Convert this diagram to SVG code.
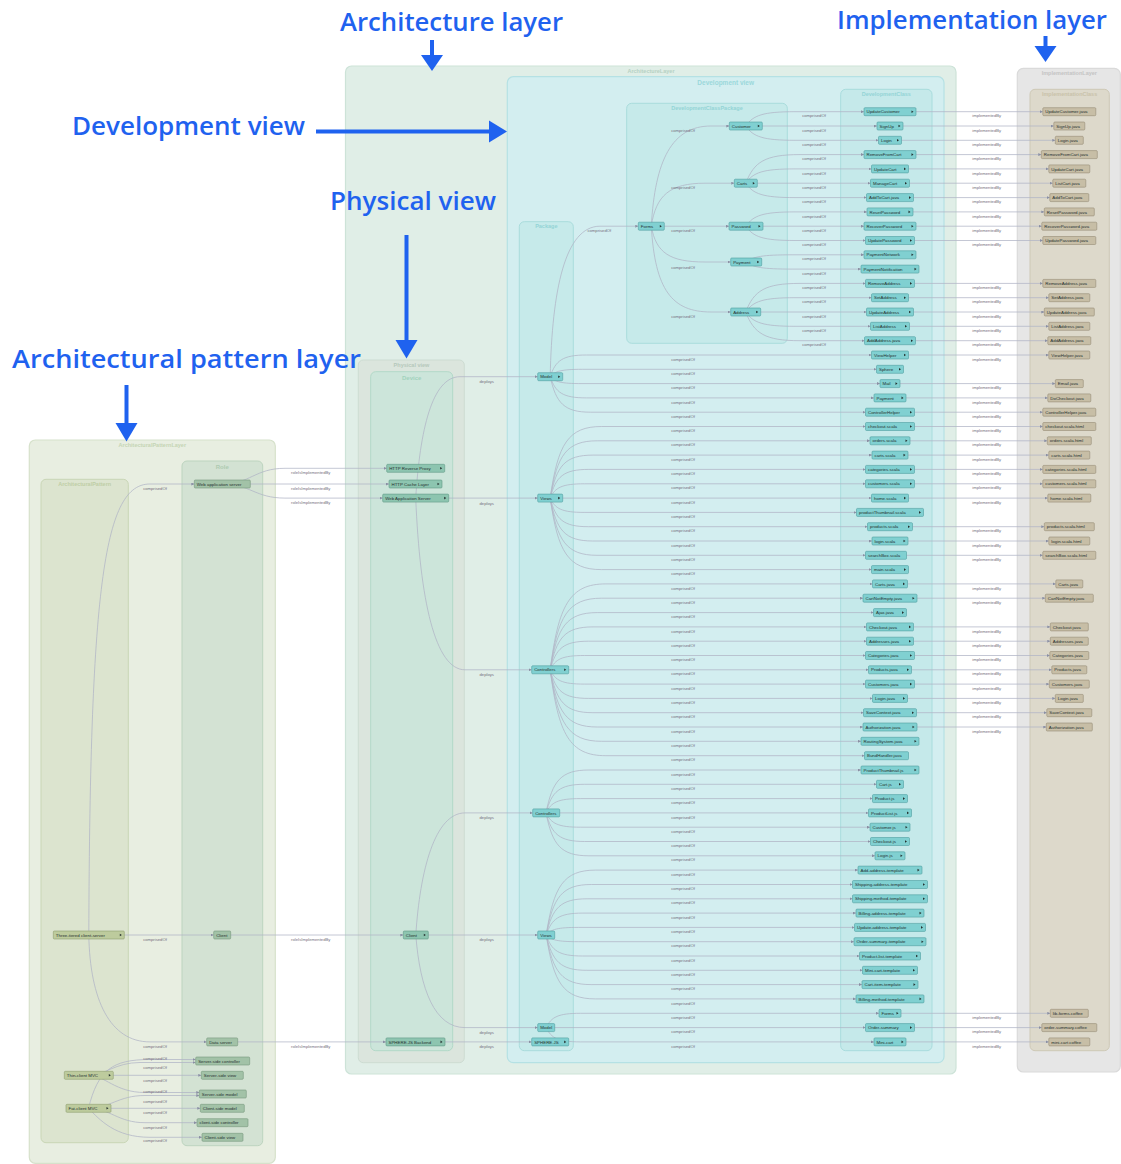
<svg xmlns="http://www.w3.org/2000/svg" width="1121" height="1164" viewBox="0 0 1121 1164">
<defs>
<marker id="ah" viewBox="0 0 4 4" refX="4" refY="2" markerWidth="3" markerHeight="3" markerUnits="userSpaceOnUse" orient="auto"><path d="M0,0L4,2L0,4z" fill="#8a8fa3"/></marker>
</defs>
<style>
.n rect{stroke-width:.6}
.dv rect{fill:#80d0d1;stroke:#4f9ea0}
.im rect{fill:#c7bea6;stroke:#958c75}
.ph rect{fill:#8dc5b0;stroke:#5f9985}
.ro rect{fill:#a2c2a7;stroke:#77977c}
.ap rect{fill:#bdcb9d;stroke:#8f9e70}
.n text{font-family:"Liberation Sans",Arial,sans-serif;font-size:4.4px;fill:#25302f}
.n path{fill:#25302f}
.e{fill:none;stroke:#b0b4c6;stroke-width:.75;marker-end:url(#ah)}
.lb{font-family:"Liberation Sans",Arial,sans-serif;font-size:4.2px;fill:#766f7e;text-anchor:middle}
.ct{font-family:"Liberation Sans",Arial,sans-serif;font-weight:bold;text-anchor:middle;font-size:5.5px}
.ann{font-family:"Open Sans",sans-serif;font-weight:600;font-size:25px;fill:#1f62ef}
.arr{stroke:#1f62ef;stroke-width:4;fill:none}
.arh{fill:#1f62ef}
</style>

<!-- containers -->
<g id="containers">
<rect id="ArchitectureLayer" x="345.5" y="66" width="610.5" height="1008" rx="6" fill="#e0eee7" stroke="#cde3d8" stroke-width="1.2"/>
<text class="ct" x="651" y="72.5" fill="#b6d1c3" font-weight="normal">ArchitectureLayer</text>
<rect id="DevelopmentView" x="507.3" y="76.7" width="436.7" height="986" rx="6" fill="#d3eef0" stroke="#b5e1e4" stroke-width="1.2"/>
<text class="ct" x="725.7" y="84.8" fill="#9bd8db" style="font-size:6.5px">Development view</text>
<rect id="DevelopmentClassPackage" x="626.7" y="103.3" width="160.6" height="240" rx="5" fill="#c6eaea" stroke="#a9dcdc" stroke-width="1"/>
<text class="ct" x="707" y="110.3" fill="#94d4d6">DevelopmentClassPackage</text>
<rect id="DevelopmentClass" x="840.7" y="89.3" width="91.3" height="961.4" rx="5" fill="#c5e9ea" stroke="#a8dcdd" stroke-width="1"/>
<text class="ct" x="886.3" y="96.3" fill="#94d4d6">DevelopmentClass</text>
<rect id="Package" x="519.3" y="221.7" width="54" height="829" rx="5" fill="#c6eaea" stroke="#a9dcdc" stroke-width="1"/>
<text class="ct" x="546.3" y="228.2" fill="#94d4d6">Package</text>
<rect id="PhysicalView" x="358.3" y="360" width="106" height="702.7" rx="5" fill="#dbe5dd" stroke="#cddcd2" stroke-width="1"/>
<text class="ct" x="411.5" y="367" fill="#b5c8bb">Physical view</text>
<rect id="Device" x="370.7" y="371.7" width="82" height="679" rx="5" fill="#cce5da" stroke="#b2d9c8" stroke-width="1"/>
<text class="ct" x="411.7" y="379.5" fill="#a2d2bd" style="font-size:6px">Device</text>
<rect id="ImplementationLayer" x="1017.3" y="68.3" width="103" height="1003.7" rx="6" fill="#e6e6e6" stroke="#dadada" stroke-width="1.2"/>
<text class="ct" x="1069.3" y="74.7" fill="#c4c4c4" font-weight="normal">ImplementationLayer</text>
<rect id="ImplementationClass" x="1030" y="89.3" width="79.3" height="961.4" rx="5" fill="#ddd9cb" stroke="#cec9b6" stroke-width="1"/>
<text class="ct" x="1069.6" y="96.3" fill="#c9c2aa">ImplementationClass</text>
<rect id="ArchitecturalPatternLayer" x="29.3" y="440" width="246" height="723.3" rx="6" fill="#e8eee1" stroke="#d6e1cb" stroke-width="1.2"/>
<text class="ct" x="152.3" y="447" fill="#c5d5b4" font-weight="normal">ArchitecturalPatternLayer</text>
<rect id="ArchitecturalPattern" x="41" y="479.3" width="87.3" height="663.4" rx="5" fill="#dce4cf" stroke="#c9d6b6" stroke-width="1"/>
<text class="ct" x="84.7" y="485.5" fill="#bfcea6">ArchitecturalPattern</text>
<rect id="Role" x="182" y="461" width="80.7" height="684.7" rx="5" fill="#d3e2d3" stroke="#bdd4bf" stroke-width="1"/>
<text class="ct" x="222.3" y="468.8" fill="#aecbb1" style="font-size:6px">Role</text>
</g>

<!-- connectors -->
<g id="connectors">
<!-- architectural pattern to role -->
<path class="e" d="M88.8,935C90,580 105,484 150,484L194.3,484"/>
<path class="e" d="M88.8,935L213.7,935"/>
<path class="e" d="M88.8,935C90,1000 110,1041.9 150,1041.9L206.7,1041.9"/>
<path class="e" d="M88.8,1075.3C105,1075.3 115,1062.5 140,1062.5L195.7,1062.5"/>
<path class="e" d="M88.8,1075.3L201.3,1075.3"/>
<path class="e" d="M88.8,1075.3C105,1075.3 115,1092.5 145,1092.5L199.3,1092.5"/>
<path class="e" d="M88.5,1108.3C98,1070 112,1059.5 150,1059.5L195.7,1059.5"/>
<path class="e" d="M88.5,1108.3C110,1108.3 118,1095.5 145,1095.5L199.3,1095.5"/>
<path class="e" d="M88.5,1108.3L200.3,1108.3"/>
<path class="e" d="M88.5,1108.3C110,1108.3 118,1122.7 145,1122.7L197,1122.7"/>
<path class="e" d="M88.5,1108.3C100,1120 115,1137.3 150,1137.3L202,1137.3"/>
<!-- role to device -->
<path class="e" d="M222.5,484C250,484 255,468.3 285,468.3L386.7,468.3"/>
<path class="e" d="M222.5,484L389,484"/>
<path class="e" d="M222.5,484C250,484 255,498.1 285,498.1L382.7,498.1"/>
<path class="e" d="M222.2,935L403.3,935"/>
<path class="e" d="M222.2,1041.9L386,1041.9"/>
<!-- device to package -->
<path class="e" d="M415.7,498.1C420,430 432,376.7 460,376.7L537.7,376.7"/>
<path class="e" d="M415.7,498.1L537.7,498.1"/>
<path class="e" d="M415.7,498.1C420,600 435,669.8 465,669.8L531.7,669.8"/>
<path class="e" d="M415.8,935C420,870 435,812.9 465,812.9L532.7,812.9"/>
<path class="e" d="M415.8,935L537.7,935"/>
<path class="e" d="M415.8,935C420,990 435,1027.6 465,1027.6L537.7,1027.6"/>
<path class="e" d="M415.5,1041.9L531.7,1041.9"/>
<!-- package to class package -->
<path class="e" d="M550.2,376.7C552,290 565,226.2 600,226.2L638.3,226.2"/>
<path class="e" d="M651.3,226.2C655,160 672,126 711,126L729.3,126"/>
<path class="e" d="M651.3,226.2C656,195 670,183.2 705,183.2L734.3,183.2"/>
<path class="e" d="M651.3,226.2L729,226.2"/>
<path class="e" d="M651.3,226.2C656,253 670,262 705,262L730.7,262"/>
<path class="e" d="M651.3,226.2C655,290 672,312 711,312L730.7,312"/>
<!-- class package to class -->
<path class="e" d="M745.8,126C753,115.3 763,111.7 795,111.7L864,111.7"/>
<path class="e" d="M745.8,126L877,126"/>
<path class="e" d="M745.8,126C753,136.7 763,140.3 795,140.3L878.5,140.3"/>
<path class="e" d="M745.8,183.2C754,161.8 765,154.6 800,154.6L864,154.6"/>
<path class="e" d="M745.8,183.2C753,172.4 763,168.9 795,168.9L871.5,168.9"/>
<path class="e" d="M745.8,183.2L870.5,183.2"/>
<path class="e" d="M745.8,183.2C753,194 763,197.6 795,197.6L866.5,197.6"/>
<path class="e" d="M746,226.2C753,215.5 763,211.9 795,211.9L867,211.9"/>
<path class="e" d="M746,226.2L864,226.2"/>
<path class="e" d="M746,226.2C753,236.9 763,240.5 795,240.5L865.5,240.5"/>
<path class="e" d="M746.2,262C753,256.6 762,254.8 793,254.8L864,254.8"/>
<path class="e" d="M746.2,262C753,267.3 762,269.1 793,269.1L861,269.1"/>
<path class="e" d="M745.7,312C754,290.5 765,283.4 800,283.4L865.5,283.4"/>
<path class="e" d="M745.7,312C753,301.3 763,297.7 795,297.7L871.5,297.7"/>
<path class="e" d="M745.7,312L866.5,312"/>
<path class="e" d="M745.7,312C753,322.7 763,326.3 795,326.3L870.5,326.3"/>
<path class="e" d="M745.7,312C754,333.5 765,340.7 800,340.7L864.5,340.7"/>
<!-- package to class -->
<path class="e" d="M550.2,376.7C555.5,360.4 562.8,355 586.5,355L871.5,355"/>
<path class="e" d="M550.2,376.7C554.8,371.2 561.3,369.3 582.2,369.3L876.5,369.3"/>
<path class="e" d="M550.2,376.7C554.8,381.9 561.2,383.6 582,383.6L880,383.6"/>
<path class="e" d="M550.2,376.7C555.5,392.6 562.7,397.9 586.4,397.9L874,397.9"/>
<path class="e" d="M550.2,376.7C556.1,403.3 564.2,412.2 590.7,412.2L865.5,412.2"/>
<path class="e" d="M550.2,498.1C557.8,443.9 568.1,426.5 601.7,426.5L865.5,426.5"/>
<path class="e" d="M550.2,498.1C557.1,454.7 566.6,440.8 597.4,440.8L870,440.8"/>
<path class="e" d="M550.2,498.1C556.5,465.4 565.1,455.1 593.1,455.1L872,455.1"/>
<path class="e" d="M550.2,498.1C555.8,476.4 563.6,469.4 588.8,469.4L865.5,469.4"/>
<path class="e" d="M550.2,498.1C555.2,487.3 562.1,483.8 584.5,483.8L865.5,483.8"/>
<path class="e" d="M550.2,498.1L871.5,498.1"/>
<path class="e" d="M550.2,498.1C555.1,508.8 561.9,512.4 584.1,512.4L856.5,512.4"/>
<path class="e" d="M550.2,498.1C555.8,519.6 563.4,526.7 588.4,526.7L867.5,526.7"/>
<path class="e" d="M550.2,498.1C556.4,530.3 564.9,541 592.7,541L872,541"/>
<path class="e" d="M550.2,498.1C557,541 566.5,555.3 597,555.3L865.5,555.3"/>
<path class="e" d="M550.2,498.1C557.7,551.7 568,569.6 601.3,569.6L871.5,569.6"/>
<path class="e" d="M550.2,669.8C558.4,605.4 569.5,583.9 605.8,583.9L872.5,583.9"/>
<path class="e" d="M550.2,669.8C557.7,616.1 568,598.2 601.5,598.2L863,598.2"/>
<path class="e" d="M550.2,669.8C557.1,626.9 566.5,612.6 597.2,612.6L873.5,612.6"/>
<path class="e" d="M550.2,669.8C556.4,637.6 565,626.9 592.9,626.9L866.5,626.9"/>
<path class="e" d="M550.2,669.8C555.8,648.4 563.5,641.2 588.6,641.2L866.5,641.2"/>
<path class="e" d="M550.2,669.8C555.2,659.1 562,655.5 584.4,655.5L865.5,655.5"/>
<path class="e" d="M550.2,669.8L868.5,669.8"/>
<path class="e" d="M550.2,669.8C555.2,680.5 562,684.1 584.4,684.1L865.5,684.1"/>
<path class="e" d="M550.2,669.8C555.8,691.3 563.5,698.4 588.6,698.4L872.5,698.4"/>
<path class="e" d="M550.2,669.8C556.4,702 565,712.7 592.9,712.7L863.5,712.7"/>
<path class="e" d="M550.2,669.8C557.1,712.7 566.5,727 597.2,727L863,727"/>
<path class="e" d="M550.2,669.8C557.7,723.4 568,741.3 601.5,741.3L861,741.3"/>
<path class="e" d="M550.2,669.8C558.4,734.2 569.5,755.7 605.8,755.7L864.5,755.7"/>
<path class="e" d="M546,812.9C552.4,780.7 561,770 588.9,770L861,770"/>
<path class="e" d="M546,812.9C551.8,791.4 559.5,784.3 584.6,784.3L876.5,784.3"/>
<path class="e" d="M546,812.9C551.2,802.2 558,798.6 580.4,798.6L872.5,798.6"/>
<path class="e" d="M546,812.9L868.5,812.9"/>
<path class="e" d="M546,812.9C551.2,823.6 558,827.2 580.4,827.2L870,827.2"/>
<path class="e" d="M546,812.9C551.8,834.4 559.5,841.5 584.6,841.5L870.5,841.5"/>
<path class="e" d="M546,812.9C552.4,845.1 561,855.8 588.9,855.8L875,855.8"/>
<path class="e" d="M546.2,935C553.6,886.3 563.5,870.1 595.7,870.1L858,870.1"/>
<path class="e" d="M546.2,935C553,897.1 562,884.5 591.4,884.5L852.5,884.5"/>
<path class="e" d="M546.2,935C552.3,907.9 560.5,898.8 587.1,898.8L852.5,898.8"/>
<path class="e" d="M546.2,935C551.7,918.6 559,913.1 582.8,913.1L856,913.1"/>
<path class="e" d="M546.2,935C551,929.3 557.5,927.4 578.5,927.4L854.5,927.4"/>
<path class="e" d="M546.2,935C551,940 557.4,941.7 578.2,941.7L854,941.7"/>
<path class="e" d="M546.2,935C551.6,950.8 558.9,956 582.5,956L859.5,956"/>
<path class="e" d="M546.2,935C552.3,961.5 560.4,970.3 586.8,970.3L862.5,970.3"/>
<path class="e" d="M546.2,935C552.9,972.2 561.9,984.6 591.1,984.6L862,984.6"/>
<path class="e" d="M546.2,935C553.6,982.9 563.4,998.9 595.4,998.9L856,998.9"/>
<path class="e" d="M546.2,1027.6C551.3,1016.9 558.2,1013.3 580.5,1013.3L879,1013.3"/>
<path class="e" d="M546.2,1027.6L865.5,1027.6"/>
<path class="e" d="M546.2,1027.6C551.3,1038.3 558.2,1041.9 580.5,1041.9L874,1041.9"/>
<!-- class to implementation -->
<path class="e" d="M916,111.7H1042.8"/>
<path class="e" d="M903,126H1053.8"/>
<path class="e" d="M901.5,140.3H1055.3"/>
<path class="e" d="M916,154.6H1041.3"/>
<path class="e" d="M908.5,168.9H1048.8"/>
<path class="e" d="M909.5,183.2H1052.8"/>
<path class="e" d="M913.5,197.6H1049.8"/>
<path class="e" d="M913,211.9H1044.3"/>
<path class="e" d="M916,226.2H1041.8"/>
<path class="e" d="M914.5,240.5H1042.8"/>
<path class="e" d="M914.5,283.4H1042.8"/>
<path class="e" d="M908.5,297.7H1048.8"/>
<path class="e" d="M913.5,312H1044.3"/>
<path class="e" d="M909.5,326.3H1048.8"/>
<path class="e" d="M915.5,340.7H1047.8"/>
<path class="e" d="M908.5,355H1048.8"/>
<path class="e" d="M900,383.6H1055.3"/>
<path class="e" d="M906,397.9H1047.8"/>
<path class="e" d="M914.5,412.2H1042.8"/>
<path class="e" d="M914.5,426.5H1042.8"/>
<path class="e" d="M910,440.8H1047.3"/>
<path class="e" d="M908,455.1H1048.8"/>
<path class="e" d="M914.5,469.4H1042.8"/>
<path class="e" d="M914.5,483.8H1042.8"/>
<path class="e" d="M908.5,498.1H1047.8"/>
<path class="e" d="M912.5,526.7H1044.3"/>
<path class="e" d="M908,541H1048.8"/>
<path class="e" d="M906.5,555.3H1042.8"/>
<path class="e" d="M907.5,583.9H1055.8"/>
<path class="e" d="M917,598.2H1045.3"/>
<path class="e" d="M913.5,626.9H1050.3"/>
<path class="e" d="M913.5,641.2H1050.3"/>
<path class="e" d="M914.5,655.5H1049.8"/>
<path class="e" d="M911.5,669.8H1051.8"/>
<path class="e" d="M914.5,684.1H1049.3"/>
<path class="e" d="M907.5,698.4H1055.3"/>
<path class="e" d="M916.5,712.7H1046.8"/>
<path class="e" d="M917,727H1046.3"/>
<path class="e" d="M901,1013.3H1050.3"/>
<path class="e" d="M914.5,1027.6H1041.8"/>
<path class="e" d="M906,1041.9H1048.8"/>
</g>

<!-- connector labels -->
<g id="connector-labels">
<g class="lb">
<text x="155" y="489.6">comprisedOf</text><text x="155" y="940.6">comprisedOf</text><text x="155" y="1047.6">comprisedOf</text>
<text x="155" y="1059.9">comprisedOf</text><text x="155" y="1069.3">comprisedOf</text><text x="155" y="1081.6">comprisedOf</text>
<text x="155" y="1092.6">comprisedOf</text><text x="155" y="1102.6">comprisedOf</text><text x="155" y="1114.3">comprisedOf</text>
<text x="155" y="1129.3">comprisedOf</text><text x="155" y="1142.3">comprisedOf</text>
<text x="310.7" y="473.9">roleIsImplementedBy</text><text x="310.7" y="489.6">roleIsImplementedBy</text><text x="310.7" y="503.9">roleIsImplementedBy</text>
<text x="310.7" y="940.6">roleIsImplementedBy</text><text x="310.7" y="1047.6">roleIsImplementedBy</text>
<text x="486.7" y="383.3">deploys</text><text x="486.7" y="504.6">deploys</text><text x="486.7" y="675.6">deploys</text>
<text x="486.7" y="819.3">deploys</text><text x="486.7" y="940.6">deploys</text><text x="486.7" y="1034.3">deploys</text><text x="486.7" y="1047.6">deploys</text>
<text x="599.3" y="231.9">comprisedOf</text>
<text x="683" y="132.3">comprisedOf</text><text x="683" y="189.3">comprisedOf</text><text x="683" y="231.9">comprisedOf</text>
<text x="683" y="268.6">comprisedOf</text><text x="683" y="318.3">comprisedOf</text>
<text x="814" y="117.3">comprisedOf</text><text x="814" y="131.6">comprisedOf</text><text x="814" y="145.9">comprisedOf</text>
<text x="814" y="160.2">comprisedOf</text><text x="814" y="174.5">comprisedOf</text><text x="814" y="188.8">comprisedOf</text>
<text x="814" y="203.2">comprisedOf</text><text x="814" y="217.5">comprisedOf</text><text x="814" y="231.8">comprisedOf</text>
<text x="814" y="246.1">comprisedOf</text><text x="814" y="260.4">comprisedOf</text><text x="814" y="274.7">comprisedOf</text>
<text x="814" y="289">comprisedOf</text><text x="814" y="303.3">comprisedOf</text><text x="814" y="317.6">comprisedOf</text>
<text x="814" y="331.9">comprisedOf</text><text x="814" y="346.3">comprisedOf</text>
<text x="683" y="360.6">comprisedOf</text><text x="683" y="374.9">comprisedOf</text><text x="683" y="389.2">comprisedOf</text>
<text x="683" y="403.5">comprisedOf</text><text x="683" y="417.8">comprisedOf</text><text x="683" y="432.1">comprisedOf</text>
<text x="683" y="446.4">comprisedOf</text><text x="683" y="460.7">comprisedOf</text><text x="683" y="475">comprisedOf</text>
<text x="683" y="489.4">comprisedOf</text><text x="683" y="503.7">comprisedOf</text><text x="683" y="518">comprisedOf</text>
<text x="683" y="532.3">comprisedOf</text><text x="683" y="546.6">comprisedOf</text><text x="683" y="560.9">comprisedOf</text>
<text x="683" y="575.2">comprisedOf</text><text x="683" y="589.5">comprisedOf</text><text x="683" y="603.8">comprisedOf</text>
<text x="683" y="618.2">comprisedOf</text><text x="683" y="632.5">comprisedOf</text><text x="683" y="646.8">comprisedOf</text>
<text x="683" y="661.1">comprisedOf</text><text x="683" y="675.4">comprisedOf</text><text x="683" y="689.7">comprisedOf</text>
<text x="683" y="704">comprisedOf</text><text x="683" y="718.3">comprisedOf</text><text x="683" y="732.6">comprisedOf</text>
<text x="683" y="746.9">comprisedOf</text><text x="683" y="761.3">comprisedOf</text><text x="683" y="775.6">comprisedOf</text>
<text x="683" y="789.9">comprisedOf</text><text x="683" y="804.2">comprisedOf</text><text x="683" y="818.5">comprisedOf</text>
<text x="683" y="832.8">comprisedOf</text><text x="683" y="847.1">comprisedOf</text><text x="683" y="861.4">comprisedOf</text>
<text x="683" y="875.7">comprisedOf</text><text x="683" y="890.1">comprisedOf</text><text x="683" y="904.4">comprisedOf</text>
<text x="683" y="918.7">comprisedOf</text><text x="683" y="933">comprisedOf</text><text x="683" y="947.3">comprisedOf</text>
<text x="683" y="961.6">comprisedOf</text><text x="683" y="975.9">comprisedOf</text><text x="683" y="990.2">comprisedOf</text>
<text x="683" y="1004.5">comprisedOf</text><text x="683" y="1018.9">comprisedOf</text><text x="683" y="1033.2">comprisedOf</text>
<text x="683" y="1047.5">comprisedOf</text>
<text x="986.7" y="117.3">implementedBy</text><text x="986.7" y="131.6">implementedBy</text><text x="986.7" y="145.9">implementedBy</text>
<text x="986.7" y="160.2">implementedBy</text><text x="986.7" y="174.5">implementedBy</text><text x="986.7" y="188.8">implementedBy</text>
<text x="986.7" y="203.2">implementedBy</text><text x="986.7" y="217.5">implementedBy</text><text x="986.7" y="231.8">implementedBy</text>
<text x="986.7" y="246.1">implementedBy</text><text x="986.7" y="289">implementedBy</text><text x="986.7" y="303.3">implementedBy</text>
<text x="986.7" y="317.6">implementedBy</text><text x="986.7" y="331.9">implementedBy</text><text x="986.7" y="346.3">implementedBy</text>
<text x="986.7" y="360.6">implementedBy</text><text x="986.7" y="389.2">implementedBy</text><text x="986.7" y="403.5">implementedBy</text>
<text x="986.7" y="417.8">implementedBy</text><text x="986.7" y="432.1">implementedBy</text><text x="986.7" y="446.4">implementedBy</text>
<text x="986.7" y="460.7">implementedBy</text><text x="986.7" y="475">implementedBy</text><text x="986.7" y="489.4">implementedBy</text>
<text x="986.7" y="503.7">implementedBy</text><text x="986.7" y="532.3">implementedBy</text><text x="986.7" y="546.6">implementedBy</text>
<text x="986.7" y="560.9">implementedBy</text><text x="986.7" y="589.5">implementedBy</text><text x="986.7" y="603.8">implementedBy</text>
<text x="986.7" y="632.5">implementedBy</text><text x="986.7" y="646.8">implementedBy</text><text x="986.7" y="661.1">implementedBy</text>
<text x="986.7" y="675.4">implementedBy</text><text x="986.7" y="689.7">implementedBy</text><text x="986.7" y="704">implementedBy</text>
<text x="986.7" y="718.3">implementedBy</text><text x="986.7" y="732.6">implementedBy</text><text x="986.7" y="1018.9">implementedBy</text>
<text x="986.7" y="1033.2">implementedBy</text><text x="986.7" y="1047.5">implementedBy</text>
</g>
</g>

<!-- architectural pattern nodes -->
<g id="ap-three-tiered" class="n ap"><rect x="53.3" y="931" width="71" height="8" rx="1"/><text x="55.8" y="936.6">Three-tiered client-server</text><path d="M119.8,933.7v2.6l2,-1.3z"/></g>
<g id="ap-thin-client" class="n ap"><rect x="64.3" y="1071.3" width="49" height="8" rx="1"/><text x="66.8" y="1076.9">Thin-client MVC</text><path d="M108.8,1074v2.6l2,-1.3z"/></g>
<g id="ap-fat-client" class="n ap"><rect x="66" y="1104.3" width="45" height="8" rx="1"/><text x="68.5" y="1109.9">Fat-client MVC</text><path d="M106.5,1107v2.6l2,-1.3z"/></g>

<!-- role nodes -->
<g id="ro-web-app-server" class="n ro"><rect x="194.3" y="480" width="56" height="8" rx="1"/><text x="196.8" y="485.6">Web application server</text></g>
<g id="ro-client" class="n ro"><rect x="213.7" y="931" width="17" height="8" rx="1"/><text x="216.2" y="936.6">Client</text></g>
<g id="ro-data-server" class="n ro"><rect x="206.7" y="1037.9" width="31" height="8" rx="1"/><text x="209.2" y="1043.5">Data server</text></g>
<g id="ro-ss-controller" class="n ro"><rect x="195.7" y="1057" width="54" height="8" rx="1"/><text x="198.2" y="1062.6">Server-side controller</text></g>
<g id="ro-ss-view" class="n ro"><rect x="201.3" y="1071.3" width="42" height="8" rx="1"/><text x="203.8" y="1076.9">Server-side view</text></g>
<g id="ro-ss-model" class="n ro"><rect x="199.3" y="1090" width="47" height="8" rx="1"/><text x="201.8" y="1095.6">Server-side model</text></g>
<g id="ro-cs-model" class="n ro"><rect x="200.3" y="1104.3" width="44" height="8" rx="1"/><text x="202.8" y="1109.9">Client-side model</text></g>
<g id="ro-cs-controller" class="n ro"><rect x="197" y="1118.7" width="51" height="8" rx="1"/><text x="199.5" y="1124.3">client-side controller</text></g>
<g id="ro-cs-view" class="n ro"><rect x="202" y="1133.3" width="41" height="8" rx="1"/><text x="204.5" y="1138.9">Client-side view</text></g>

<!-- device nodes -->
<g id="ph-reverse-proxy" class="n ph"><rect x="386.7" y="464.3" width="58" height="8" rx="1"/><text x="389.2" y="469.9">HTTP Reverse Proxy</text><path d="M440.2,467v2.6l2,-1.3z"/></g>
<g id="ph-cache-layer" class="n ph"><rect x="389" y="480" width="53" height="8" rx="1"/><text x="391.5" y="485.6">HTTP Cache Layer</text><path d="M437.5,482.7v2.6l2,-1.3z"/></g>
<g id="ph-web-app-server" class="n ph"><rect x="382.7" y="494.1" width="66" height="8" rx="1"/><text x="385.2" y="499.7">Web Application Server</text><path d="M444.2,496.8v2.6l2,-1.3z"/></g>
<g id="ph-client" class="n ph"><rect x="403.3" y="931" width="25" height="8" rx="1"/><text x="405.8" y="936.6">Client</text><path d="M423.8,933.7v2.6l2,-1.3z"/></g>
<g id="ph-sphere-backend" class="n ph"><rect x="386" y="1037.9" width="59" height="8" rx="1"/><text x="388.5" y="1043.5">SPHERE.JS Backend</text><path d="M440.5,1040.6v2.6l2,-1.3z"/></g>

<!-- package nodes -->
<g id="pk-model" class="n dv"><rect x="537.7" y="372.7" width="25" height="8" rx="1"/><text x="540.2" y="378.3">Model</text><path d="M558.2,375.4v2.6l2,-1.3z"/></g>
<g id="pk-views" class="n dv"><rect x="537.7" y="494.1" width="25" height="8" rx="1"/><text x="540.2" y="499.7">Views</text><path d="M558.2,496.8v2.6l2,-1.3z"/></g>
<g id="pk-controllers" class="n dv"><rect x="531.7" y="665.8" width="37" height="8" rx="1"/><text x="534.2" y="671.4">Controllers</text><path d="M564.2,668.5v2.6l2,-1.3z"/></g>
<g id="pk-controllers-js" class="n dv"><rect x="532.7" y="808.9" width="27" height="8" rx="1"/><text x="535.2" y="814.5">Controllers</text></g>
<g id="pk-views-js" class="n dv"><rect x="537.7" y="931" width="17" height="8" rx="1"/><text x="540.2" y="936.6">Views</text></g>
<g id="pk-model-js" class="n dv"><rect x="537.7" y="1023.6" width="17" height="8" rx="1"/><text x="540.2" y="1029.2">Model</text></g>
<g id="pk-sphere" class="n dv"><rect x="531.7" y="1037.9" width="37" height="8" rx="1"/><text x="534.2" y="1043.5">SPHERE.JS</text><path d="M564.2,1040.6v2.6l2,-1.3z"/></g>

<!-- class package nodes -->
<g id="cp-forms" class="n dv"><rect x="638.3" y="222.2" width="26" height="8" rx="1"/><text x="640.8" y="227.8">Forms</text><path d="M659.8,224.9v2.6l2,-1.3z"/></g>
<g id="cp-customer" class="n dv"><rect x="729.3" y="122" width="33" height="8" rx="1"/><text x="731.8" y="127.6">Customer</text><path d="M757.8,124.7v2.6l2,-1.3z"/></g>
<g id="cp-carts" class="n dv"><rect x="734.3" y="179.2" width="23" height="8" rx="1"/><text x="736.8" y="184.8">Carts</text><path d="M752.8,181.9v2.6l2,-1.3z"/></g>
<g id="cp-password" class="n dv"><rect x="729" y="222.2" width="34" height="8" rx="1"/><text x="731.5" y="227.8">Password</text><path d="M758.5,224.9v2.6l2,-1.3z"/></g>
<g id="cp-payment" class="n dv"><rect x="730.7" y="258" width="31" height="8" rx="1"/><text x="733.2" y="263.6">Payment</text><path d="M757.2,260.7v2.6l2,-1.3z"/></g>
<g id="cp-address" class="n dv"><rect x="730.7" y="308" width="30" height="8" rx="1"/><text x="733.2" y="313.6">Address</text><path d="M756.2,310.7v2.6l2,-1.3z"/></g>

<!-- development class nodes -->
<g id="dc-01" class="n dv"><rect x="864" y="107.7" width="52" height="8" rx="1"/><text x="866.5" y="113.3">UpdateCustomer</text><path d="M911.5,110.4v2.6l2,-1.3z"/></g>
<g id="dc-02" class="n dv"><rect x="877" y="122" width="26" height="8" rx="1"/><text x="879.5" y="127.6">SignUp</text><path d="M898.5,124.7v2.6l2,-1.3z"/></g>
<g id="dc-03" class="n dv"><rect x="878.5" y="136.3" width="23" height="8" rx="1"/><text x="881" y="141.9">Login</text><path d="M897,139v2.6l2,-1.3z"/></g>
<g id="dc-04" class="n dv"><rect x="864" y="150.6" width="52" height="8" rx="1"/><text x="866.5" y="156.2">RemoveFromCart</text><path d="M911.5,153.3v2.6l2,-1.3z"/></g>
<g id="dc-05" class="n dv"><rect x="871.5" y="164.9" width="37" height="8" rx="1"/><text x="874" y="170.5">UpdateCart</text><path d="M904,167.6v2.6l2,-1.3z"/></g>
<g id="dc-06" class="n dv"><rect x="870.5" y="179.2" width="39" height="8" rx="1"/><text x="873" y="184.8">ManageCart</text><path d="M905,181.9v2.6l2,-1.3z"/></g>
<g id="dc-07" class="n dv"><rect x="866.5" y="193.6" width="47" height="8" rx="1"/><text x="869" y="199.2">AddToCart.java</text><path d="M909,196.3v2.6l2,-1.3z"/></g>
<g id="dc-08" class="n dv"><rect x="867" y="207.9" width="46" height="8" rx="1"/><text x="869.5" y="213.5">ResetPassword</text><path d="M908.5,210.6v2.6l2,-1.3z"/></g>
<g id="dc-09" class="n dv"><rect x="864" y="222.2" width="52" height="8" rx="1"/><text x="866.5" y="227.8">RecoverPassword</text><path d="M911.5,224.9v2.6l2,-1.3z"/></g>
<g id="dc-10" class="n dv"><rect x="865.5" y="236.5" width="49" height="8" rx="1"/><text x="868" y="242.1">UpdatePassword</text><path d="M910,239.2v2.6l2,-1.3z"/></g>
<g id="dc-11" class="n dv"><rect x="864" y="250.8" width="52" height="8" rx="1"/><text x="866.5" y="256.4">PaymentNetwork</text><path d="M911.5,253.5v2.6l2,-1.3z"/></g>
<g id="dc-12" class="n dv"><rect x="861" y="265.1" width="58" height="8" rx="1"/><text x="863.5" y="270.7">PaymentNotification</text><path d="M914.5,267.8v2.6l2,-1.3z"/></g>
<g id="dc-13" class="n dv"><rect x="865.5" y="279.4" width="49" height="8" rx="1"/><text x="868" y="285">RemoveAddress</text><path d="M910,282.1v2.6l2,-1.3z"/></g>
<g id="dc-14" class="n dv"><rect x="871.5" y="293.7" width="37" height="8" rx="1"/><text x="874" y="299.3">SetAddress</text><path d="M904,296.4v2.6l2,-1.3z"/></g>
<g id="dc-15" class="n dv"><rect x="866.5" y="308" width="47" height="8" rx="1"/><text x="869" y="313.6">UpdateAddress</text><path d="M909,310.7v2.6l2,-1.3z"/></g>
<g id="dc-16" class="n dv"><rect x="870.5" y="322.3" width="39" height="8" rx="1"/><text x="873" y="327.9">ListAddress</text><path d="M905,325v2.6l2,-1.3z"/></g>
<g id="dc-17" class="n dv"><rect x="864.5" y="336.7" width="51" height="8" rx="1"/><text x="867" y="342.3">AddAddress.java</text><path d="M911,339.4v2.6l2,-1.3z"/></g>
<g id="dc-18" class="n dv"><rect x="871.5" y="351" width="37" height="8" rx="1"/><text x="874" y="356.6">ViewHelper</text><path d="M904,353.7v2.6l2,-1.3z"/></g>
<g id="dc-19" class="n dv"><rect x="876.5" y="365.3" width="27" height="8" rx="1"/><text x="879" y="370.9">Sphere</text><path d="M899,368v2.6l2,-1.3z"/></g>
<g id="dc-20" class="n dv"><rect x="880" y="379.6" width="20" height="8" rx="1"/><text x="882.5" y="385.2">Mail</text><path d="M895.5,382.3v2.6l2,-1.3z"/></g>
<g id="dc-21" class="n dv"><rect x="874" y="393.9" width="32" height="8" rx="1"/><text x="876.5" y="399.5">Payment</text><path d="M901.5,396.6v2.6l2,-1.3z"/></g>
<g id="dc-22" class="n dv"><rect x="865.5" y="408.2" width="49" height="8" rx="1"/><text x="868" y="413.8">ControllerHelper</text><path d="M910,410.9v2.6l2,-1.3z"/></g>
<g id="dc-23" class="n dv"><rect x="865.5" y="422.5" width="49" height="8" rx="1"/><text x="868" y="428.1">checkout.scala</text><path d="M910,425.2v2.6l2,-1.3z"/></g>
<g id="dc-24" class="n dv"><rect x="870" y="436.8" width="40" height="8" rx="1"/><text x="872.5" y="442.4">orders.scala</text><path d="M905.5,439.5v2.6l2,-1.3z"/></g>
<g id="dc-25" class="n dv"><rect x="872" y="451.1" width="36" height="8" rx="1"/><text x="874.5" y="456.7">carts.scala</text><path d="M903.5,453.8v2.6l2,-1.3z"/></g>
<g id="dc-26" class="n dv"><rect x="865.5" y="465.4" width="49" height="8" rx="1"/><text x="868" y="471">categories.scala</text><path d="M910,468.1v2.6l2,-1.3z"/></g>
<g id="dc-27" class="n dv"><rect x="865.5" y="479.8" width="49" height="8" rx="1"/><text x="868" y="485.4">customers.scala</text><path d="M910,482.5v2.6l2,-1.3z"/></g>
<g id="dc-28" class="n dv"><rect x="871.5" y="494.1" width="37" height="8" rx="1"/><text x="874" y="499.7">home.scala</text><path d="M904,496.8v2.6l2,-1.3z"/></g>
<g id="dc-29" class="n dv"><rect x="856.5" y="508.4" width="67" height="8" rx="1"/><text x="859" y="514">productThumbnail.scala</text><path d="M919,511.1v2.6l2,-1.3z"/></g>
<g id="dc-30" class="n dv"><rect x="867.5" y="522.7" width="45" height="8" rx="1"/><text x="870" y="528.3">products.scala</text><path d="M908,525.4v2.6l2,-1.3z"/></g>
<g id="dc-31" class="n dv"><rect x="872" y="537" width="36" height="8" rx="1"/><text x="874.5" y="542.6">login.scala</text><path d="M903.5,539.7v2.6l2,-1.3z"/></g>
<g id="dc-32" class="n dv"><rect x="865.5" y="551.3" width="41" height="8" rx="1"/><text x="868" y="556.9">searchBox.scala</text></g>
<g id="dc-33" class="n dv"><rect x="871.5" y="565.6" width="37" height="8" rx="1"/><text x="874" y="571.2">main.scala</text><path d="M904,568.3v2.6l2,-1.3z"/></g>
<g id="dc-34" class="n dv"><rect x="872.5" y="579.9" width="35" height="8" rx="1"/><text x="875" y="585.5">Carts.java</text><path d="M903,582.6v2.6l2,-1.3z"/></g>
<g id="dc-35" class="n dv"><rect x="863" y="594.2" width="54" height="8" rx="1"/><text x="865.5" y="599.8">CartNotEmpty.java</text><path d="M912.5,596.9v2.6l2,-1.3z"/></g>
<g id="dc-36" class="n dv"><rect x="873.5" y="608.6" width="33" height="8" rx="1"/><text x="876" y="614.2">Ajax.java</text><path d="M902,611.3v2.6l2,-1.3z"/></g>
<g id="dc-37" class="n dv"><rect x="866.5" y="622.9" width="47" height="8" rx="1"/><text x="869" y="628.5">Checkout.java</text><path d="M909,625.6v2.6l2,-1.3z"/></g>
<g id="dc-38" class="n dv"><rect x="866.5" y="637.2" width="47" height="8" rx="1"/><text x="869" y="642.8">Addresses.java</text><path d="M909,639.9v2.6l2,-1.3z"/></g>
<g id="dc-39" class="n dv"><rect x="865.5" y="651.5" width="49" height="8" rx="1"/><text x="868" y="657.1">Categories.java</text><path d="M910,654.2v2.6l2,-1.3z"/></g>
<g id="dc-40" class="n dv"><rect x="868.5" y="665.8" width="43" height="8" rx="1"/><text x="871" y="671.4">Products.java</text><path d="M907,668.5v2.6l2,-1.3z"/></g>
<g id="dc-41" class="n dv"><rect x="865.5" y="680.1" width="49" height="8" rx="1"/><text x="868" y="685.7">Customers.java</text><path d="M910,682.8v2.6l2,-1.3z"/></g>
<g id="dc-42" class="n dv"><rect x="872.5" y="694.4" width="35" height="8" rx="1"/><text x="875" y="700">Login.java</text><path d="M903,697.1v2.6l2,-1.3z"/></g>
<g id="dc-43" class="n dv"><rect x="863.5" y="708.7" width="53" height="8" rx="1"/><text x="866" y="714.3">SaveContext.java</text><path d="M912,711.4v2.6l2,-1.3z"/></g>
<g id="dc-44" class="n dv"><rect x="863" y="723" width="54" height="8" rx="1"/><text x="865.5" y="728.6">Authorization.java</text><path d="M912.5,725.7v2.6l2,-1.3z"/></g>
<g id="dc-45" class="n dv"><rect x="861" y="737.3" width="58" height="8" rx="1"/><text x="863.5" y="742.9">RoutingSystem.java</text><path d="M914.5,740v2.6l2,-1.3z"/></g>
<g id="dc-46" class="n dv"><rect x="864.5" y="751.7" width="44" height="8" rx="1"/><text x="867" y="757.3">BundHandler.java</text></g>
<g id="dc-47" class="n dv"><rect x="861" y="766" width="58" height="8" rx="1"/><text x="863.5" y="771.6">ProductThumbnail.js</text><path d="M914.5,768.7v2.6l2,-1.3z"/></g>
<g id="dc-48" class="n dv"><rect x="876.5" y="780.3" width="27" height="8" rx="1"/><text x="879" y="785.9">Cart.js</text><path d="M899,783v2.6l2,-1.3z"/></g>
<g id="dc-49" class="n dv"><rect x="872.5" y="794.6" width="35" height="8" rx="1"/><text x="875" y="800.2">Product.js</text><path d="M903,797.3v2.6l2,-1.3z"/></g>
<g id="dc-50" class="n dv"><rect x="868.5" y="808.9" width="43" height="8" rx="1"/><text x="871" y="814.5">ProductList.js</text><path d="M907,811.6v2.6l2,-1.3z"/></g>
<g id="dc-51" class="n dv"><rect x="870" y="823.2" width="40" height="8" rx="1"/><text x="872.5" y="828.8">Customer.js</text><path d="M905.5,825.9v2.6l2,-1.3z"/></g>
<g id="dc-52" class="n dv"><rect x="870.5" y="837.5" width="39" height="8" rx="1"/><text x="873" y="843.1">Checkout.js</text><path d="M905,840.2v2.6l2,-1.3z"/></g>
<g id="dc-53" class="n dv"><rect x="875" y="851.8" width="30" height="8" rx="1"/><text x="877.5" y="857.4">Login.js</text><path d="M900.5,854.5v2.6l2,-1.3z"/></g>
<g id="dc-54" class="n dv"><rect x="858" y="866.1" width="64" height="8" rx="1"/><text x="860.5" y="871.7">Add-address-template</text><path d="M917.5,868.8v2.6l2,-1.3z"/></g>
<g id="dc-55" class="n dv"><rect x="852.5" y="880.5" width="75" height="8" rx="1"/><text x="855" y="886.1">Shipping-address-template</text><path d="M923,883.2v2.6l2,-1.3z"/></g>
<g id="dc-56" class="n dv"><rect x="852.5" y="894.8" width="75" height="8" rx="1"/><text x="855" y="900.4">Shipping-method-template</text><path d="M923,897.5v2.6l2,-1.3z"/></g>
<g id="dc-57" class="n dv"><rect x="856" y="909.1" width="68" height="8" rx="1"/><text x="858.5" y="914.7">Billing-address-template</text><path d="M919.5,911.8v2.6l2,-1.3z"/></g>
<g id="dc-58" class="n dv"><rect x="854.5" y="923.4" width="71" height="8" rx="1"/><text x="857" y="929">Update-address-template</text><path d="M921,926.1v2.6l2,-1.3z"/></g>
<g id="dc-59" class="n dv"><rect x="854" y="937.7" width="72" height="8" rx="1"/><text x="856.5" y="943.3">Order-summary-template</text><path d="M921.5,940.4v2.6l2,-1.3z"/></g>
<g id="dc-60" class="n dv"><rect x="859.5" y="952" width="61" height="8" rx="1"/><text x="862" y="957.6">Product-list-template</text><path d="M916,954.7v2.6l2,-1.3z"/></g>
<g id="dc-61" class="n dv"><rect x="862.5" y="966.3" width="55" height="8" rx="1"/><text x="865" y="971.9">Mini-cart-template</text><path d="M913,969v2.6l2,-1.3z"/></g>
<g id="dc-62" class="n dv"><rect x="862" y="980.6" width="56" height="8" rx="1"/><text x="864.5" y="986.2">Cart-item-template</text><path d="M913.5,983.3v2.6l2,-1.3z"/></g>
<g id="dc-63" class="n dv"><rect x="856" y="994.9" width="68" height="8" rx="1"/><text x="858.5" y="1000.5">Billing-method-template</text><path d="M919.5,997.6v2.6l2,-1.3z"/></g>
<g id="dc-64" class="n dv"><rect x="879" y="1009.3" width="22" height="8" rx="1"/><text x="881.5" y="1014.9">Forms</text><path d="M896.5,1012v2.6l2,-1.3z"/></g>
<g id="dc-65" class="n dv"><rect x="865.5" y="1023.6" width="49" height="8" rx="1"/><text x="868" y="1029.2">Order-summary</text><path d="M910,1026.3v2.6l2,-1.3z"/></g>
<g id="dc-66" class="n dv"><rect x="874" y="1037.9" width="32" height="8" rx="1"/><text x="876.5" y="1043.5">Mini-cart</text><path d="M901.5,1040.6v2.6l2,-1.3z"/></g>

<!-- implementation class nodes -->
<g id="ic-01" class="n im"><rect x="1042.8" y="107.7" width="53" height="8" rx="1"/><text x="1045.3" y="113.3">UpdateCustomer.java</text></g>
<g id="ic-02" class="n im"><rect x="1053.8" y="122" width="31" height="8" rx="1"/><text x="1056.3" y="127.6">SignUp.java</text></g>
<g id="ic-03" class="n im"><rect x="1055.3" y="136.3" width="28" height="8" rx="1"/><text x="1057.8" y="141.9">Login.java</text></g>
<g id="ic-04" class="n im"><rect x="1041.3" y="150.6" width="56" height="8" rx="1"/><text x="1043.8" y="156.2">RemoveFromCart.java</text></g>
<g id="ic-05" class="n im"><rect x="1048.8" y="164.9" width="41" height="8" rx="1"/><text x="1051.3" y="170.5">UpdateCart.java</text></g>
<g id="ic-06" class="n im"><rect x="1052.8" y="179.2" width="33" height="8" rx="1"/><text x="1055.3" y="184.8">ListCart.java</text></g>
<g id="ic-07" class="n im"><rect x="1049.8" y="193.6" width="39" height="8" rx="1"/><text x="1052.3" y="199.2">AddToCart.java</text></g>
<g id="ic-08" class="n im"><rect x="1044.3" y="207.9" width="50" height="8" rx="1"/><text x="1046.8" y="213.5">ResetPassword.java</text></g>
<g id="ic-09" class="n im"><rect x="1041.8" y="222.2" width="55" height="8" rx="1"/><text x="1044.3" y="227.8">RecoverPassword.java</text></g>
<g id="ic-10" class="n im"><rect x="1042.8" y="236.5" width="53" height="8" rx="1"/><text x="1045.3" y="242.1">UpdatePassword.java</text></g>
<g id="ic-13" class="n im"><rect x="1042.8" y="279.4" width="53" height="8" rx="1"/><text x="1045.3" y="285">RemoveAddress.java</text></g>
<g id="ic-14" class="n im"><rect x="1048.8" y="293.7" width="41" height="8" rx="1"/><text x="1051.3" y="299.3">SetAddress.java</text></g>
<g id="ic-15" class="n im"><rect x="1044.3" y="308" width="50" height="8" rx="1"/><text x="1046.8" y="313.6">UpdateAddress.java</text></g>
<g id="ic-16" class="n im"><rect x="1048.8" y="322.3" width="41" height="8" rx="1"/><text x="1051.3" y="327.9">ListAddress.java</text></g>
<g id="ic-17" class="n im"><rect x="1047.8" y="336.7" width="43" height="8" rx="1"/><text x="1050.3" y="342.3">AddAddress.java</text></g>
<g id="ic-18" class="n im"><rect x="1048.8" y="351" width="41" height="8" rx="1"/><text x="1051.3" y="356.6">ViewHelper.java</text></g>
<g id="ic-20" class="n im"><rect x="1055.3" y="379.6" width="28" height="8" rx="1"/><text x="1057.8" y="385.2">Email.java</text></g>
<g id="ic-21" class="n im"><rect x="1047.8" y="393.9" width="43" height="8" rx="1"/><text x="1050.3" y="399.5">DoCheckout.java</text></g>
<g id="ic-22" class="n im"><rect x="1042.8" y="408.2" width="53" height="8" rx="1"/><text x="1045.3" y="413.8">ControllerHelper.java</text></g>
<g id="ic-23" class="n im"><rect x="1042.8" y="422.5" width="53" height="8" rx="1"/><text x="1045.3" y="428.1">checkout.scala.html</text></g>
<g id="ic-24" class="n im"><rect x="1047.3" y="436.8" width="44" height="8" rx="1"/><text x="1049.8" y="442.4">orders.scala.html</text></g>
<g id="ic-25" class="n im"><rect x="1048.8" y="451.1" width="41" height="8" rx="1"/><text x="1051.3" y="456.7">carts.scala.html</text></g>
<g id="ic-26" class="n im"><rect x="1042.8" y="465.4" width="53" height="8" rx="1"/><text x="1045.3" y="471">categories.scala.html</text></g>
<g id="ic-27" class="n im"><rect x="1042.8" y="479.8" width="53" height="8" rx="1"/><text x="1045.3" y="485.4">customers.scala.html</text></g>
<g id="ic-28" class="n im"><rect x="1047.8" y="494.1" width="43" height="8" rx="1"/><text x="1050.3" y="499.7">home.scala.html</text></g>
<g id="ic-30" class="n im"><rect x="1044.3" y="522.7" width="50" height="8" rx="1"/><text x="1046.8" y="528.3">products.scala.html</text></g>
<g id="ic-31" class="n im"><rect x="1048.8" y="537" width="41" height="8" rx="1"/><text x="1051.3" y="542.6">login.scala.html</text></g>
<g id="ic-32" class="n im"><rect x="1042.8" y="551.3" width="53" height="8" rx="1"/><text x="1045.3" y="556.9">searchBox.scala.html</text></g>
<g id="ic-34" class="n im"><rect x="1055.8" y="579.9" width="27" height="8" rx="1"/><text x="1058.3" y="585.5">Carts.java</text></g>
<g id="ic-35" class="n im"><rect x="1045.3" y="594.2" width="48" height="8" rx="1"/><text x="1047.8" y="599.8">CartNotEmpty.java</text></g>
<g id="ic-37" class="n im"><rect x="1050.3" y="622.9" width="38" height="8" rx="1"/><text x="1052.8" y="628.5">Checkout.java</text></g>
<g id="ic-38" class="n im"><rect x="1050.3" y="637.2" width="38" height="8" rx="1"/><text x="1052.8" y="642.8">Addresses.java</text></g>
<g id="ic-39" class="n im"><rect x="1049.8" y="651.5" width="39" height="8" rx="1"/><text x="1052.3" y="657.1">Categories.java</text></g>
<g id="ic-40" class="n im"><rect x="1051.8" y="665.8" width="35" height="8" rx="1"/><text x="1054.3" y="671.4">Products.java</text></g>
<g id="ic-41" class="n im"><rect x="1049.3" y="680.1" width="40" height="8" rx="1"/><text x="1051.8" y="685.7">Customers.java</text></g>
<g id="ic-42" class="n im"><rect x="1055.3" y="694.4" width="28" height="8" rx="1"/><text x="1057.8" y="700">Login.java</text></g>
<g id="ic-43" class="n im"><rect x="1046.8" y="708.7" width="45" height="8" rx="1"/><text x="1049.3" y="714.3">SaveContext.java</text></g>
<g id="ic-44" class="n im"><rect x="1046.3" y="723" width="46" height="8" rx="1"/><text x="1048.8" y="728.6">Authorization.java</text></g>
<g id="ic-64" class="n im"><rect x="1050.3" y="1009.3" width="38" height="8" rx="1"/><text x="1052.8" y="1014.9">lib-forms.coffee</text></g>
<g id="ic-65" class="n im"><rect x="1041.8" y="1023.6" width="55" height="8" rx="1"/><text x="1044.3" y="1029.2">order-summary.coffee</text></g>
<g id="ic-66" class="n im"><rect x="1048.8" y="1037.9" width="41" height="8" rx="1"/><text x="1051.3" y="1043.5">mini-cart.coffee</text></g>

<!-- annotations -->
<g id="annotations">
<text class="ann" x="340" y="31" textLength="223" lengthAdjust="spacingAndGlyphs">Architecture layer</text>
<line class="arr" x1="432" y1="40" x2="432" y2="57"/><polygon class="arh" points="421,55 443,55 432,71"/>
<text class="ann" x="837" y="29" textLength="270" lengthAdjust="spacingAndGlyphs">Implementation layer</text>
<line class="arr" x1="1045.5" y1="36" x2="1045.5" y2="48"/><polygon class="arh" points="1034.5,46 1056.5,46 1045.5,62"/>
<text class="ann" x="72" y="135" textLength="233" lengthAdjust="spacingAndGlyphs">Development view</text>
<line class="arr" x1="316" y1="131.5" x2="491" y2="131.5"/><polygon class="arh" points="489,120.5 489,142.5 507,131.5"/>
<text class="ann" x="330" y="210" textLength="166" lengthAdjust="spacingAndGlyphs">Physical view</text>
<line class="arr" x1="406.5" y1="235" x2="406.5" y2="342"/><polygon class="arh" points="395.5,340 417.5,340 406.5,358.5"/>
<text class="ann" x="12" y="368" textLength="349" lengthAdjust="spacingAndGlyphs">Architectural pattern layer</text>
<line class="arr" x1="126.5" y1="385" x2="126.5" y2="425"/><polygon class="arh" points="115.5,423 137.5,423 126.5,441.5"/>
</g>
</svg>
